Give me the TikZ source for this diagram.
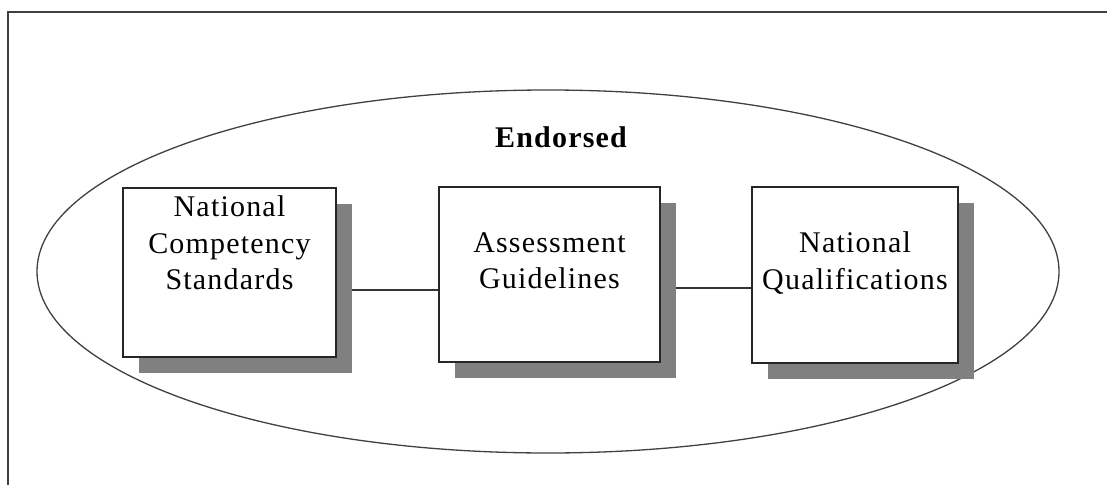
\documentclass[tikz,border=0pt]{standalone}
\usepackage{fontspec}
\setmainfont{Liberation Serif}[LetterSpace=4]
\usetikzlibrary{calc,shadows}
\pgfdeclarelayer{background}
\pgfsetlayers{background,main}
\tikzset{
  unitbox/.style={draw=black!85, line width=1.2pt, fill=white, minimum width=#1, inner sep=0pt,
    drop shadow={shadow xshift=16pt, shadow yshift=-16pt, fill=black!50, opacity=1, draw=none}},
  boxtext/.style={anchor=north, align=center, inner sep=0pt, font=\fontsize{30}{36.5}\selectfont},
  link/.style={draw=black!80, line width=1.2pt},
  frameline/.style={draw=black!75, line width=2.2pt}
}
\begin{document}
\begin{tikzpicture}[x=1pt,y=-1pt]
\useasboundingbox (0,0) rectangle (1107,484);
\draw[frameline] (8,485) -- (8,12) -- (1108,12);
\draw[draw=black!75, line width=1.3pt] (548,271.5) ellipse [x radius=511, y radius=181.5];
\node[font=\bfseries\fontsize{30}{36}\selectfont, anchor=base, inner sep=0pt] (endorsed) at (561,147) {Endorsed};
\node[unitbox=213pt, minimum height=169pt] (b1) at (229.5,272.5) {};
\node[unitbox=221pt, minimum height=175pt] (b2) at (549.5,274.5) {};
\node[unitbox=206pt, minimum height=176pt] (b3) at (855,275) {};
\node[boxtext] (t1) at (229.5,195.5) {National\\Competency\\Standards};
\node[boxtext] (t2) at (549.5,232) {Assessment\\Guidelines};
\node[boxtext] (t3) at (855,231.5) {National\\Qualifications};
\begin{pgfonlayer}{background}
\draw[link] ($(b1.east)+(0,17.5)$) -- ($(b2.west)+(0,15.5)$);
\draw[link] ($(b2.east)+(0,13.5)$) -- ($(b3.west)+(0,13)$);
\end{pgfonlayer}
\end{tikzpicture}
\end{document}
